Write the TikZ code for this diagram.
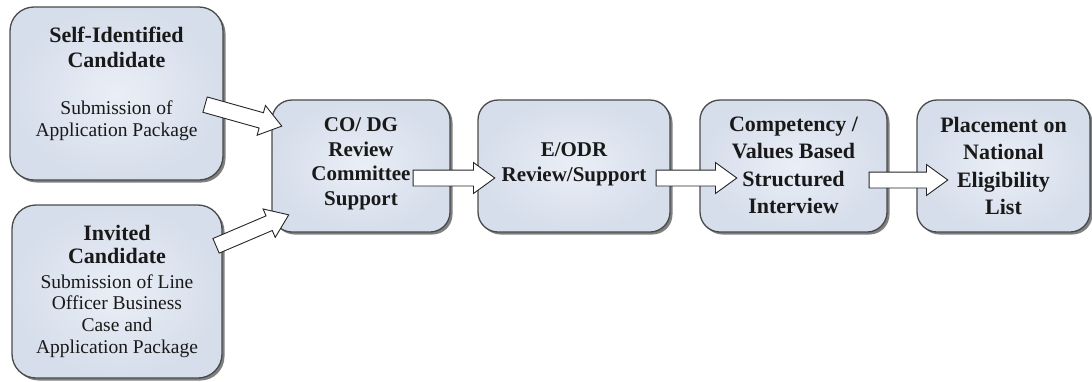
\documentclass[tikz,border=0pt]{standalone}
\usepackage{fontspec}
\setmainfont{Liberation Serif}
\usetikzlibrary{shapes.arrows,shadows,calc}
\definecolor{boxfill}{HTML}{D6DEEB}
\definecolor{boxlight}{HTML}{EAEEF6}
\definecolor{boxline}{HTML}{4A4A4A}
% hollow block arrow from one named point to another
\newcommand\blockarrow[2]{%
  \path let \p1=(#1), \p2=(#2),
    \n1={atan2(\y2-\y1,\x2-\x1)}, \n2={veclen(\x2-\x1,\y2-\y1)} in
    node[barrow, minimum height=\n2, rotate=\n1, anchor=tail] at (\p1) {};}
\begin{document}
\begin{tikzpicture}[x=1pt,y=-1pt,
  stage/.style={draw=boxline, line width=1.3pt, rounded corners=20pt,
    inner color=boxlight, outer color=boxfill, inner sep=0pt,
    drop shadow={shadow xshift=2.5pt,shadow yshift=-2.5pt,opacity=0.5,fill=black}},
  head/.style={align=center, inner sep=0pt, text=black!90,
    font=\fontsize{22}{25}\selectfont\bfseries},
  body/.style={align=center, inner sep=0pt, text=black!90,
    font=\fontsize{19.5}{21.7}\selectfont},
  bold/.style={align=center, inner sep=0pt, text=black!90,
    font=\fontsize{21}{24.5}\selectfont\bfseries},
  boldwide/.style={bold, font=\fontsize{22}{27.5}\selectfont\bfseries},
  barrow/.style={single arrow, draw=black!85, fill=white, line width=0.9pt,
    single arrow head extend=7.5pt, single arrow tip angle=72,
    inner xsep=0pt, inner ysep=7.5pt},
]
\fill[white] (0,0) rectangle (1092,381);
\useasboundingbox (0,0) rectangle (1092,381);

% stages
\node[stage, rounded corners=24pt, minimum width=213pt, minimum height=173pt] (self) at (116.5,93.5) {};
\node[stage, rounded corners=24pt, minimum width=210pt, minimum height=173pt] (inv) at (117,291.5) {};
\node[stage, minimum width=178pt, minimum height=132pt] (co) at (361,166) {};
\node[stage, minimum width=192pt, minimum height=132pt] (ed) at (574,166) {};
\node[stage, minimum width=187pt, minimum height=132pt] (comp) at (793.5,166) {};
\node[stage, minimum width=173pt, minimum height=132pt] (place) at (1003.5,166) {};

% stage texts
\node[head] (self-h) at (116.5,47) {Self-Identified\\Candidate};
\node[body] (self-b) at (116.5,120.5) {Submission of\\Application Package};
\node[head, font=\fontsize{22}{23}\selectfont\bfseries] (inv-h) at (117,244) {Invited\\Candidate};
\node[body] (inv-b) at (117,316) {Submission of Line\\Officer Business\\Case and\\Application Package};
\node[bold] (co-t) at (361,164) {CO/ DG\\Review\\Committee\\Support};
\node[bold] (ed-t) at (574,164.5) {E/ODR\\Review/Support};
\node[boldwide] (comp-t) at (793.5,165.5) {Competency /\\Values Based\\Structured\\Interview};
\node[boldwide] (place-t) at (1003.5,166) {Placement on\\National\\Eligibility\\List};

% arrow end points
\coordinate (a1s) at ($(self.east)+(-19,11)$);
\coordinate (a1e) at ($(co.west)+(10,-40)$);
\coordinate (a2s) at ($(inv.east)+(-7,-45.5)$);
\coordinate (a2e) at ($(co.west)+(17,49)$);
\coordinate (a3s) at ($(co.east)+(-38,12)$);
\coordinate (a3e) at ($(ed.west)+(17,12)$);
\coordinate (a4s) at ($(ed.east)+(-15,12)$);
\coordinate (a4e) at ($(comp.west)+(37,12)$);
\coordinate (a5s) at ($(comp.east)+(-19,14)$);
\coordinate (a5e) at ($(place.west)+(31,14)$);

% flow arrows
\blockarrow{a1s}{a1e}
\blockarrow{a2s}{a2e}
\blockarrow{a3s}{a3e}
\blockarrow{a4s}{a4e}
\blockarrow{a5s}{a5e}
\end{tikzpicture}
\end{document}
